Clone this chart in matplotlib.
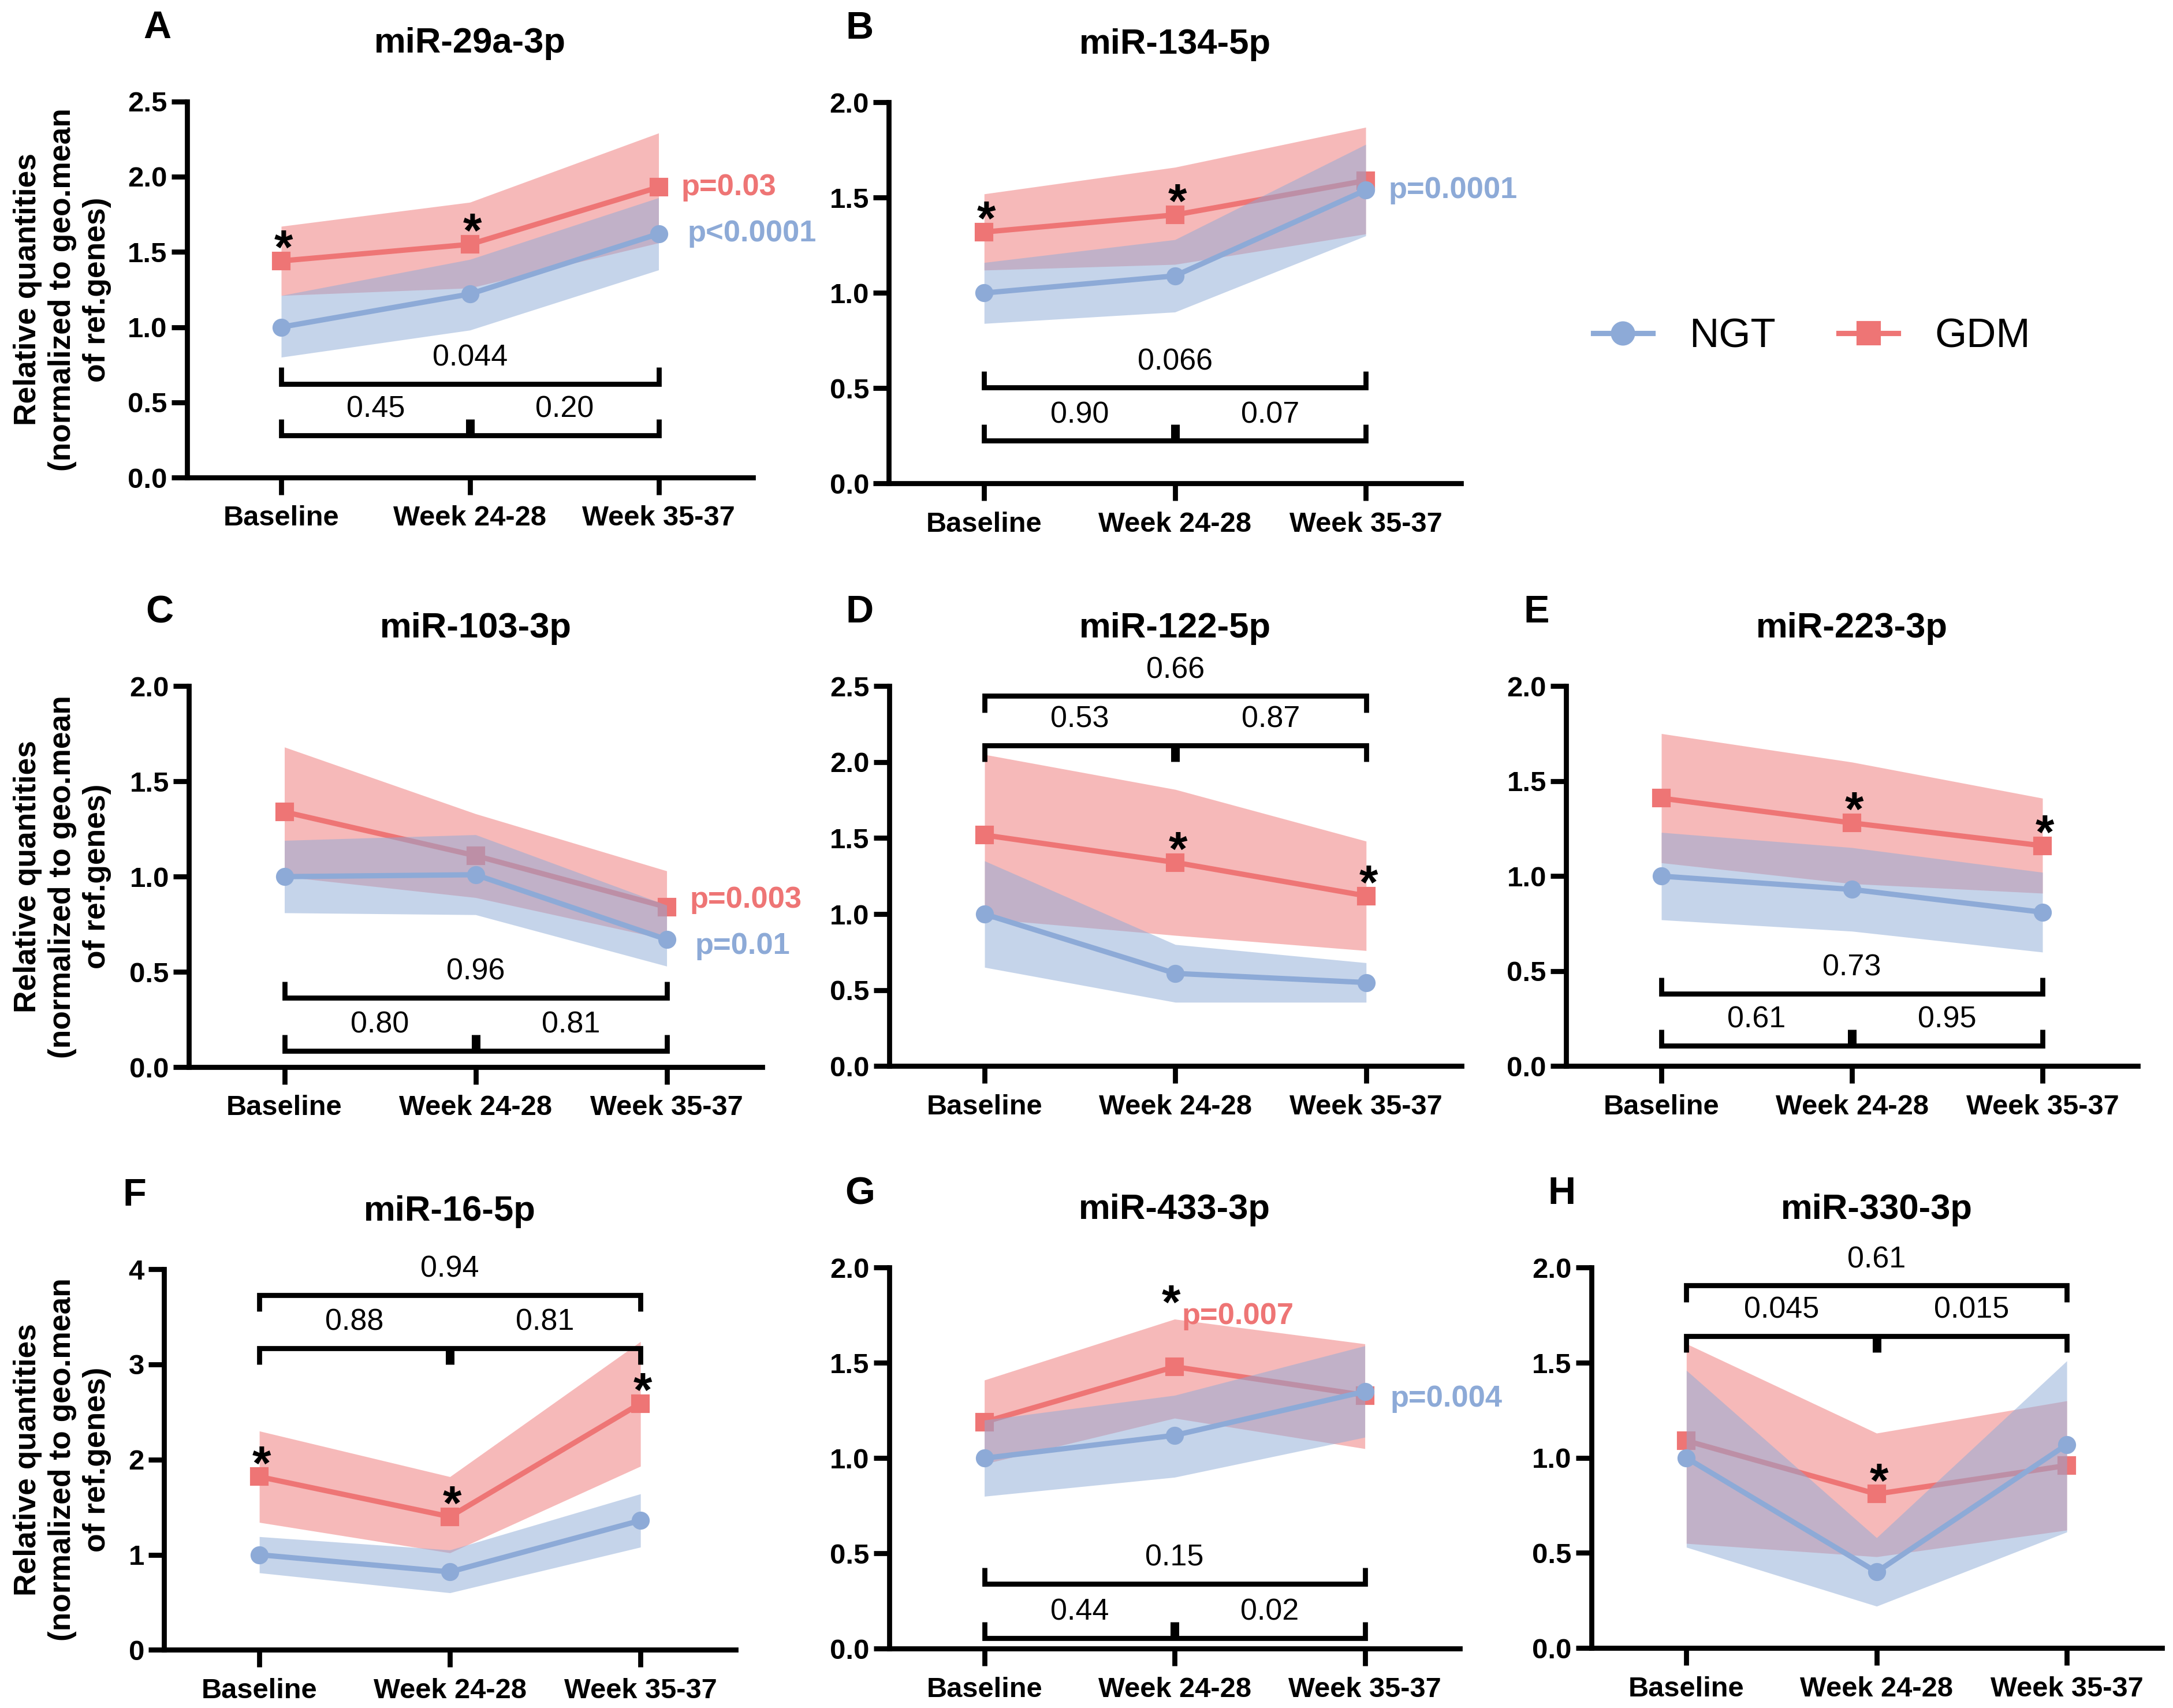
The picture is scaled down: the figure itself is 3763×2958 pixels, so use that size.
import matplotlib
matplotlib.use('Agg')
import matplotlib.pyplot as plt
import numpy as np
from matplotlib.ticker import MultipleLocator, FormatStrFormatter

plt.rcParams['font.family'] = ['Liberation Sans', 'DejaVu Sans']
plt.rcParams['font.weight'] = 'bold'

# ---- data ----
panels = ['A', 'B', 'C', 'D', 'E', 'F', 'G', 'H']
mirnas = ['miR-29a-3p', 'miR-134-5p', 'miR-103-3p', 'miR-122-5p',
          'miR-223-3p', 'miR-16-5p', 'miR-433-3p', 'miR-330-3p']
timepoints = ['Baseline', 'Week 24-28', 'Week 35-37']

ngt_mean = [[1.00, 1.22, 1.62], [1.00, 1.09, 1.54], [1.00, 1.01, 0.67], [1.00, 0.61, 0.55],
            [1.00, 0.93, 0.81], [1.00, 0.82, 1.36], [1.00, 1.12, 1.35], [1.00, 0.40, 1.07]]
ngt_low = [[0.80, 0.98, 1.38], [0.84, 0.90, 1.30], [0.81, 0.80, 0.53], [0.65, 0.42, 0.42],
           [0.77, 0.71, 0.60], [0.81, 0.60, 1.08], [0.80, 0.90, 1.11], [0.53, 0.22, 0.61]]
ngt_high = [[1.21, 1.45, 1.86], [1.16, 1.28, 1.78], [1.19, 1.22, 0.85], [1.35, 0.80, 0.68],
            [1.23, 1.15, 1.02], [1.19, 1.05, 1.64], [1.20, 1.33, 1.59], [1.46, 0.58, 1.51]]

gdm_mean = [[1.44, 1.55, 1.93], [1.32, 1.41, 1.59], [1.34, 1.11, 0.84], [1.52, 1.34, 1.12],
            [1.41, 1.28, 1.16], [1.82, 1.40, 2.59], [1.19, 1.48, 1.33], [1.09, 0.81, 0.96]]
gdm_low = [[1.21, 1.26, 1.56], [1.12, 1.15, 1.31], [1.00, 0.89, 0.67], [0.97, 0.86, 0.76],
           [1.07, 0.96, 0.91], [1.34, 1.02, 1.93], [0.97, 1.21, 1.05], [0.55, 0.48, 0.62]]
gdm_high = [[1.67, 1.83, 2.29], [1.52, 1.66, 1.87], [1.68, 1.33, 1.03], [2.05, 1.82, 1.48],
            [1.75, 1.60, 1.41], [2.30, 1.82, 3.24], [1.41, 1.73, 1.60], [1.60, 1.13, 1.30]]

# asterisks (GDM vs NGT) at these time points
stars = [[0, 1], [0, 1], [], [1, 2], [1, 2], [0, 1, 2], [1], [1]]

# pairwise p-values between time points: (baseline vs 35-37, baseline vs 24-28, 24-28 vs 35-37)
pair_p = [['0.044', '0.45', '0.20'], ['0.066', '0.90', '0.07'], ['0.96', '0.80', '0.81'],
          ['0.66', '0.53', '0.87'], ['0.73', '0.61', '0.95'], ['0.94', '0.88', '0.81'],
          ['0.15', '0.44', '0.02'], ['0.61', '0.045', '0.015']]

# trend p-values
gdm_trend_p = ['p=0.03', '', 'p=0.003', '', '', '', 'p=0.007', '']
ngt_trend_p = ['p<0.0001', 'p=0.0001', 'p=0.01', '', '', '', 'p=0.004', '']

y_max = [2.5, 2.0, 2.0, 2.5, 2.0, 4, 2.0, 2.0]
y_step = [0.5, 0.5, 0.5, 0.5, 0.5, 1, 0.5, 0.5]

# ---- layout ----
W, H, DPI = 3763, 2958, 300
RED = '#EE7575'
BLUE = '#8DAAD7'
LW = 2.1

rects = [(0.0860, 0.7204, 0.2605, 0.2202), (0.4090, 0.7169, 0.2634, 0.2231),
         (0.0869, 0.3752, 0.2639, 0.2231), (0.4092, 0.3758, 0.2634, 0.2225),
         (0.7207, 0.3758, 0.2631, 0.2225), (0.0755, 0.0340, 0.2631, 0.2229),
         (0.4092, 0.0347, 0.2627, 0.2231), (0.7323, 0.0351, 0.2626, 0.2227)]
bracket_side = ['below', 'below', 'below', 'above', 'below', 'above', 'below', 'above']
bracket_long = [0.623, 0.503, 0.364, 2.435, 0.381, 3.727, 0.34, 1.906]
bracket_short = [0.28, 0.224, 0.085, 2.109, 0.108, 3.172, 0.056, 1.64]
star_dx = [1, 1, 1, 1, 1, 1, -1.5, 1]
star_dy = [-1.2, -1.2, -1.2, -1.2, -1.2, -1.2, 20, -1.2]
# (point index, dx pt, dy pt)
gdm_p_place = {0: (2, 9.4, 0), 2: (2, 9.6, 3), 6: (1, 3, 21)}
ngt_p_place = {0: (2, 12, 0), 1: (2, 9.4, 0), 2: (2, 11.8, -2.7), 6: (2, 10.5, -3)}
ylabel_panels = [0, 2, 5]

fig = plt.figure(figsize=(W / DPI, H / DPI), dpi=DPI)
x = np.arange(len(timepoints))
handles = None

for i, letter in enumerate(panels):
    ax = fig.add_axes(rects[i])

    ax.fill_between(x, gdm_low[i], gdm_high[i], color=RED, alpha=0.5, lw=0, zorder=1)
    h_gdm, = ax.plot(x, gdm_mean[i], color=RED, lw=2.2, marker='s', ms=6.5, zorder=2)
    ax.fill_between(x, ngt_low[i], ngt_high[i], color=BLUE, alpha=0.5, lw=0, zorder=3)
    h_ngt, = ax.plot(x, ngt_mean[i], color=BLUE, lw=2.2, marker='o', ms=6.5, zorder=4)
    if handles is None:
        handles = [h_ngt, h_gdm]

    ax.set_xlim(-0.5, 2.5)
    ax.set_ylim(0, y_max[i])
    ax.set_xticks(x, timepoints)
    ax.yaxis.set_major_locator(MultipleLocator(y_step[i]))
    ax.yaxis.set_major_formatter(FormatStrFormatter('%.1f' if y_step[i] < 1 else '%d'))
    for s in ['top', 'right']:
        ax.spines[s].set_visible(False)
    for s in ['left', 'bottom']:
        ax.spines[s].set_linewidth(LW)
    ax.tick_params(axis='x', length=7.3, width=LW, pad=4.3, labelsize=11.7)
    ax.tick_params(axis='y', length=6.5, width=LW, pad=1.7, labelsize=11.8)

    # title and panel letter
    ax.annotate(mirnas[i], xy=(0.5, 1), xycoords='axes fraction', xytext=(0, 24),
                textcoords='offset points', ha='center', va='center', fontsize=14.8)
    ax.annotate(letter, xy=(0, 1), xycoords='axes fraction', xytext=(-12.2, 30.5),
                textcoords='offset points', ha='center', va='center', fontsize=16)

    if i in ylabel_panels:
        ax.annotate('Relative quantities\n(normalized to geo.mean\nof ref.genes)',
                    xy=(108 / W, 0.5), xycoords=('figure fraction', 'axes fraction'),
                    rotation=90, ha='center', va='center', fontsize=12.8,
                    linespacing=1.25, multialignment='center')

    # asterisks
    for j in stars[i]:
        ax.annotate('*', xy=(j, gdm_mean[i][j]), xytext=(star_dx[i], star_dy[i]),
                    textcoords='offset points', ha='center', va='baseline',
                    fontsize=20, zorder=6)

    # trend p-values
    if gdm_trend_p[i]:
        j, dx, dy = gdm_p_place[i]
        ax.annotate(gdm_trend_p[i], xy=(j, gdm_mean[i][j]), xytext=(dx, dy),
                    textcoords='offset points', ha='left', va='center',
                    fontsize=12.6, color=RED, annotation_clip=False, zorder=6)
    if ngt_trend_p[i]:
        j, dx, dy = ngt_p_place[i]
        ax.annotate(ngt_trend_p[i], xy=(j, ngt_mean[i][j]), xytext=(dx, dy),
                    textcoords='offset points', ha='left', va='center',
                    fontsize=12.6, color=BLUE, annotation_clip=False, zorder=6)

    # pairwise brackets
    ax_h_px = rects[i][3] * H
    th = 6.8 / 72 * DPI / ax_h_px * y_max[i]
    sg = 1 if bracket_side[i] == 'below' else -1
    yl, ys = bracket_long[i], bracket_short[i]
    kw = dict(color='black', lw=LW, clip_on=False, zorder=5,
              solid_joinstyle='miter', solid_capstyle='butt')
    ax.plot([0, 0, 2, 2], [yl + sg * th, yl, yl, yl + sg * th], **kw)
    ax.plot([0, 0, 2, 2], [ys + sg * th, ys, ys, ys + sg * th], **kw)
    ax.plot([1, 1], [ys, ys + sg * th], color='black', lw=3.6, clip_on=False,
            zorder=5, solid_capstyle='butt')
    for xt, yt, lab in [(1, yl, pair_p[i][0]), (0.5, ys, pair_p[i][1]), (1.5, ys, pair_p[i][2])]:
        ax.annotate(lab, xy=(xt, yt), xytext=(0, 7.5), textcoords='offset points',
                    ha='center', va='baseline', fontsize=12.5, fontweight='normal',
                    annotation_clip=False)

fig.legend(handles, ['NGT', 'GDM'], loc='center left', bbox_to_anchor=(2759 / W, 0.8026),
           ncol=2, frameon=False, prop={'size': 17, 'weight': 'normal'},
           handlelength=1.45, handletextpad=0.89, columnspacing=1.55,
           borderpad=0, borderaxespad=0, markerscale=1.4)

fig.savefig('out.png', dpi=DPI)
